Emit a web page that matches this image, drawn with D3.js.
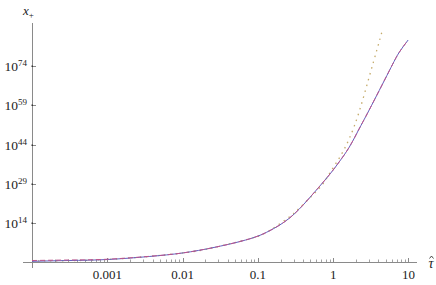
<!DOCTYPE html>
<html>
<head>
<meta charset="utf-8">
<script src="https://cdn.jsdelivr.net/npm/d3@7"></script>
<style>
  html, body { margin: 0; padding: 0; background: #fff; }
</style>
</head>
<body>
<div id="chart"></div>
<script>
// x_+ against tau-hat; y values kept as log10 exponents
const tauSolid = [1e-4, 3.12e-4, 1e-3, 0.0036, 0.0099, 0.0279, 0.0766, 0.141, 0.261, 0.48, 0.885, 1.2, 1.63, 2.21, 3.01, 5.55, 7.52, 9.91];
const solidExp = [-0.5, -0.19, 0.19, 1.34, 2.67, 4.96, 8.02, 11.07, 15.92, 23.56, 32.45, 37.42, 43.0, 50.02, 57.27, 72.16, 79.23, 84.0];
const dashedExp = [-0.2, 0.0, 0.3, 1.4, 2.67, 4.96, 8.02, 11.07, 15.92, 23.56, 32.45, 37.42, 43.0, 50.02, 57.27, 72.16, 79.23, 84.0];

const tauDotted = [1e-4, 1e-3, 0.0099, 0.0279, 0.0766, 0.141, 0.261, 0.3535, 0.652, 0.885, 1.2, 1.63, 2.21, 3.01, 3.84, 4.52];
const dottedExp = [-0.3, 0.2, 2.67, 4.96, 8.02, 11.15, 16.42, 19.74, 27.38, 32.84, 38.83, 46.2, 56.51, 69.87, 80.56, 87.82];

const xTicks = [0.001, 0.01, 0.1, 1, 10];
const xTickLabels = ['0.001', '0.01', '0.1', '1', '10'];
const yTickExp = [14, 29, 44, 59, 74];

const width = 436, height = 285;
const serif = '"Liberation Serif", "Times New Roman", "DejaVu Serif", serif';

const svg = d3.select('#chart').append('svg')
    .attr('width', width)
    .attr('height', height)
    .attr('font-family', serif)
    .style('display', 'block');

// scales
const x = d3.scaleLog().domain([1e-4, 13]).range([32, 417]);
const y = d3.scaleLog().domain([Math.pow(10, -0.76), Math.pow(10, 90.5)]).range([262, 23]);

const axisColor = '#8a8a8a';

// axes lines
svg.append('line')
    .attr('x1', 23).attr('x2', 417)
    .attr('y1', 262.5).attr('y2', 262.5)
    .attr('stroke', axisColor).attr('stroke-width', 1);
svg.append('line')
    .attr('x1', 32.5).attr('x2', 32.5)
    .attr('y1', 23).attr('y2', 268)
    .attr('stroke', axisColor).attr('stroke-width', 1);

// x ticks (major + minor), drawn inward
const minor = [];
for (let d = -4; d <= 0; d++) {
    for (let m = 2; m <= 9; m++) minor.push(m * Math.pow(10, d));
}
svg.append('g').selectAll('line')
    .data(minor)
    .join('line')
    .attr('x1', d => Math.round(x(d)) + 0.5).attr('x2', d => Math.round(x(d)) + 0.5)
    .attr('y1', 262).attr('y2', 259.5)
    .attr('stroke', axisColor).attr('stroke-width', 0.8);
svg.append('g').selectAll('line')
    .data(xTicks)
    .join('line')
    .attr('x1', d => Math.round(x(d)) + 0.5).attr('x2', d => Math.round(x(d)) + 0.5)
    .attr('y1', 262).attr('y2', 258)
    .attr('stroke', axisColor).attr('stroke-width', 1);
svg.append('g').selectAll('text')
    .data(xTicks)
    .join('text')
    .attr('x', d => x(d))
    .attr('y', 279)
    .attr('text-anchor', 'middle')
    .attr('font-size', 13)
    .attr('fill', '#222')
    .text((d, i) => xTickLabels[i]);

// y ticks
const yt = svg.append('g').selectAll('g')
    .data(yTickExp)
    .join('g')
    .attr('transform', d => `translate(0,${Math.round(y(Math.pow(10, d))) + 0.5})`);
yt.append('line')
    .attr('x1', 32).attr('x2', 36)
    .attr('stroke', axisColor).attr('stroke-width', 1);
yt.append('rect')
    .attr('x', 31.5).attr('y', -1).attr('width', 1.5).attr('height', 1.5)
    .attr('fill', '#333');
const lbl = yt.append('text')
    .attr('x', 27)
    .attr('y', 4.5)
    .attr('text-anchor', 'end')
    .attr('fill', '#222')
    .attr('font-size', 13.5);
lbl.append('tspan').text('10');
lbl.append('tspan')
    .attr('font-size', 9)
    .attr('dy', -5)
    .text(d => d);

// axis labels
const xl = svg.append('text')
    .attr('x', 23).attr('y', 15)
    .attr('font-size', 13).attr('fill', '#222');
xl.append('tspan').attr('font-style', 'italic').text('x');
xl.append('tspan').attr('font-size', 9).attr('dy', 3).text('+');

svg.append('text')
    .attr('x', 431).attr('y', 268)
    .attr('text-anchor', 'middle')
    .attr('font-size', 14).attr('font-style', 'italic').attr('fill', '#222')
    .text('\u03C4');
// hat over tau
svg.append('path')
    .attr('d', 'M429.5,258.5 L431.5,256 L433.5,258.5')
    .attr('fill', 'none')
    .attr('stroke', '#222')
    .attr('stroke-width', 0.8);

// curves
const line = d3.line()
    .x(d => x(d[0]))
    .y(d => y(Math.pow(10, d[1])))
    .curve(d3.curveNatural);

const plot = svg.append('g');
plot.append('path')
    .datum(tauDotted.map((t, i) => [t, dottedExp[i]]))
    .attr('d', line)
    .attr('fill', 'none')
    .attr('stroke', 'rgb(196,170,105)')
    .attr('stroke-width', 1.3)
    .attr('stroke-dasharray', '1.5,4.5');
plot.append('path')
    .datum(tauSolid.map((t, i) => [t, solidExp[i]]))
    .attr('d', line)
    .attr('fill', 'none')
    .attr('stroke', 'rgb(95,95,190)')
    .attr('stroke-width', 1);
plot.append('path')
    .datum(tauSolid.map((t, i) => [t, dashedExp[i]]))
    .attr('d', line)
    .attr('fill', 'none')
    .attr('stroke', 'rgb(190,85,140)')
    .attr('stroke-width', 1)
    .attr('stroke-dasharray', '5,3');
</script>
</body>
</html>
